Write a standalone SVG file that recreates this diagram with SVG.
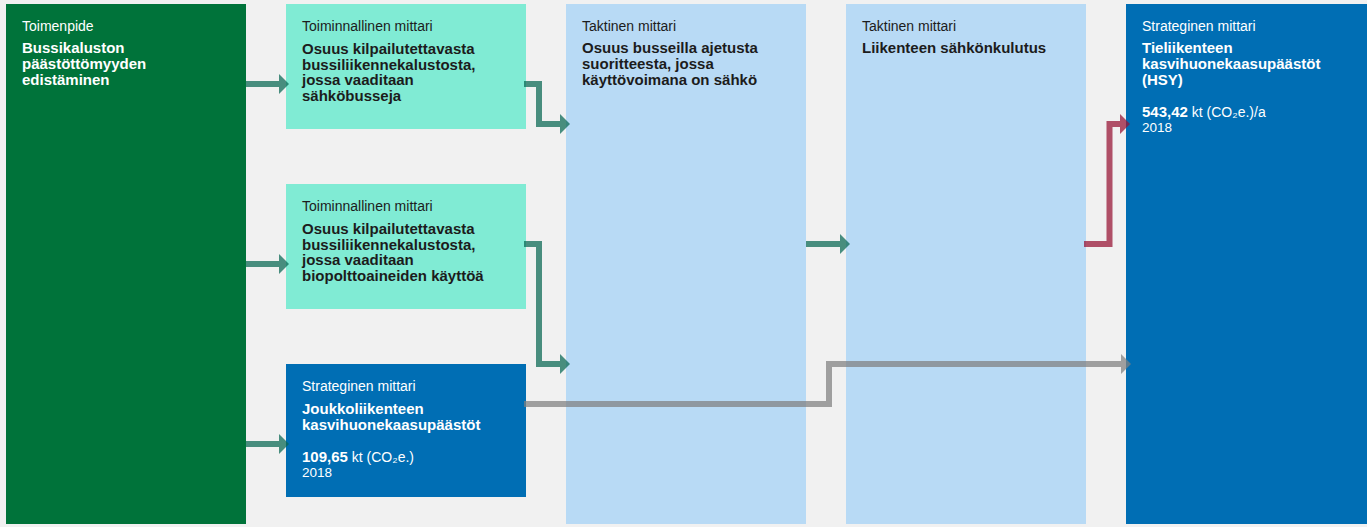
<svg xmlns="http://www.w3.org/2000/svg" width="1367" height="527" viewBox="0 0 1367 527">
<style>
text{font-family:"Liberation Sans","DejaVu Sans",Arial,sans-serif}
.lbl{font-size:14px}
.ttl{font-size:15px;font-weight:bold}
.val{font-size:15px;font-weight:bold}
.unit{font-size:14px}
.yr{font-size:13.5px}
.w{fill:#ffffff}
.d{fill:#1c1c1c}
.teal{stroke:#086753;fill:none;stroke-width:6}
.red{stroke:#971133;fill:none;stroke-width:6}
.gray{stroke:#808080;fill:none;stroke-width:6}
</style>
<defs>
<marker id="ht" markerUnits="userSpaceOnUse" markerWidth="10" markerHeight="20" refX="0" refY="10" orient="auto" viewBox="0 0 10 20"><path d="M0,0 L10,10 L0,20 Z" fill="#086753"/></marker>
<marker id="hr" markerUnits="userSpaceOnUse" markerWidth="10" markerHeight="20" refX="0" refY="10" orient="auto" viewBox="0 0 10 20"><path d="M0,0 L10,10 L0,20 Z" fill="#971133"/></marker>
<marker id="hg" markerUnits="userSpaceOnUse" markerWidth="10" markerHeight="20" refX="0" refY="10" orient="auto" viewBox="0 0 10 20"><path d="M0,0 L10,10 L0,20 Z" fill="#808080"/></marker>
</defs>
<rect width="1367" height="527" fill="#f1f1f1"/>

<g id="toimenpide">
<rect x="6" y="4" width="240" height="520" fill="#00733a"/>
<text class="lbl w" x="22" y="31">Toimenpide</text>
<text class="ttl w" x="22" y="53">Bussikaluston</text>
<text class="ttl w" x="22" y="69">päästöttömyyden</text>
<text class="ttl w" x="22" y="85">edistäminen</text>
</g>

<g id="mittari-sahkobussit">
<rect x="286" y="4" width="240" height="125" fill="#80ebd4"/>
<text class="lbl d" x="302" y="31">Toiminnallinen mittari</text>
<text class="ttl d" x="302" y="54">Osuus kilpailutettavasta</text>
<text class="ttl d" x="302" y="69.5">bussiliikennekalustosta,</text>
<text class="ttl d" x="302" y="85">jossa vaaditaan</text>
<text class="ttl d" x="302" y="100.5">sähköbusseja</text>
</g>

<g id="mittari-biopolttoaineet">
<rect x="286" y="184" width="240" height="125" fill="#80ebd4"/>
<text class="lbl d" x="302" y="211">Toiminnallinen mittari</text>
<text class="ttl d" x="302" y="234">Osuus kilpailutettavasta</text>
<text class="ttl d" x="302" y="249.5">bussiliikennekalustosta,</text>
<text class="ttl d" x="302" y="265">jossa vaaditaan</text>
<text class="ttl d" x="302" y="280.5">biopolttoaineiden käyttöä</text>
</g>

<g id="joukkoliikenne-paastot">
<rect x="286" y="364" width="240" height="133" fill="#006eb4"/>
<text class="lbl w" x="302" y="391">Strateginen mittari</text>
<text class="ttl w" x="302" y="414">Joukkoliikenteen</text>
<text class="ttl w" x="302" y="430">kasvihuonekaasupäästöt</text>
<text class="w" x="302" y="462"><tspan class="val">109,65</tspan><tspan class="unit"> kt (CO₂e.)</tspan></text>
<text class="yr w" x="302" y="477">2018</text>
</g>

<g id="sahkobussien-osuus">
<rect x="566" y="4" width="240" height="520" fill="#b8daf5"/>
<text class="lbl d" x="582" y="31">Taktinen mittari</text>
<text class="ttl d" x="582" y="53">Osuus busseilla ajetusta</text>
<text class="ttl d" x="582" y="69">suoritteesta, jossa</text>
<text class="ttl d" x="582" y="85">käyttövoimana on sähkö</text>
</g>

<g id="sahkonkulutus">
<rect x="846" y="4" width="240" height="520" fill="#b8daf5"/>
<text class="lbl d" x="862" y="31">Taktinen mittari</text>
<text class="ttl d" x="862" y="53">Liikenteen sähkönkulutus</text>
</g>

<g id="tieliikenne-paastot">
<rect x="1126" y="4" width="241" height="520" fill="#006eb4"/>
<text class="lbl w" x="1142" y="31">Strateginen mittari</text>
<text class="ttl w" x="1142" y="53">Tieliikenteen</text>
<text class="ttl w" x="1142" y="69">kasvihuonekaasupäästöt</text>
<text class="ttl w" x="1142" y="85">(HSY)</text>
<text class="w" x="1142" y="117"><tspan class="val">543,42</tspan><tspan class="unit"> kt (CO₂e.)/a</tspan></text>
<text class="yr w" x="1142" y="132">2018</text>
</g>

<g id="connectors">
<g opacity="0.72"><path class="teal" d="M246,84 H279" marker-end="url(#ht)"/></g>
<g opacity="0.72"><path class="teal" d="M246,264 H279" marker-end="url(#ht)"/></g>
<g opacity="0.72"><path class="teal" d="M246,444 H279" marker-end="url(#ht)"/></g>
<g opacity="0.72"><path class="teal" d="M524,84 H539 V124 H560" marker-end="url(#ht)"/></g>
<g opacity="0.72"><path class="teal" d="M524,244 H539 V364 H560" marker-end="url(#ht)"/></g>
<g opacity="0.72"><path class="teal" d="M806,244 H840" marker-end="url(#ht)"/></g>
<g opacity="0.72"><path class="red" d="M1084,244 H1109.5 V124 H1120" marker-end="url(#hr)"/></g>
<g opacity="0.72"><path class="gray" d="M524,404 H829 V364 H1121" marker-end="url(#hg)"/></g>
</g>
</svg>
